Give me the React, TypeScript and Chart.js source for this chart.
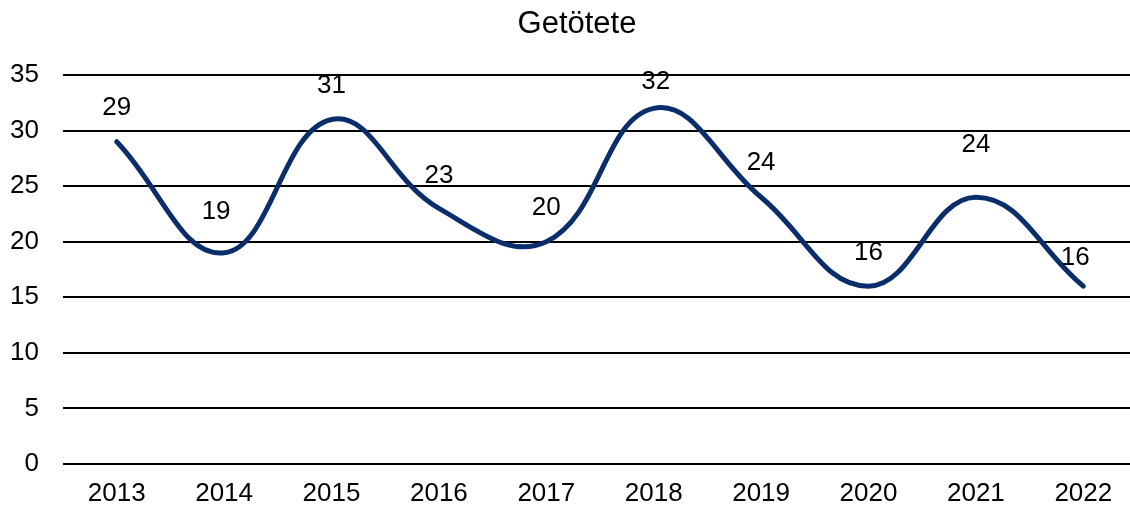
import React, { useEffect, useRef } from "react";
import { Chart, registerables } from "chart.js";

Chart.register(...registerables);

const categories = ["2013", "2014", "2015", "2016", "2017", "2018", "2019", "2020", "2021", "2022"];
const killed = [29, 19, 31, 23, 20, 32, 24, 16, 24, 16];
const yTicks = [0, 5, 10, 15, 20, 25, 30, 35];
const chartTitle = "Getötete";

// label nudges [dx, dy] relative to the point (style only)
const labelNudge: [number, number][] = [
  [0, -34], [-8, -41], [0, -34], [0, -33], [0, -34],
  [2, -27], [0, -34], [0, -33], [0, -52], [-8, -28],
];

const FONT = "'Liberation Sans', Arial, sans-serif";

export default function App() {
  const ref = useRef<HTMLCanvasElement | null>(null);
  useEffect(() => {
    document.body.style.margin = "0";
    const labelPlugin = {
      id: "valueLabels",
      afterDatasetsDraw(chart: any) {
        const ctx = chart.ctx;
        const meta = chart.getDatasetMeta(0);
        ctx.save();
        ctx.font = `26px ${FONT}`;
        ctx.fillStyle = "#000";
        ctx.textAlign = "center";
        ctx.textBaseline = "middle";
        meta.data.forEach((pt: any, i: number) => {
          const [dx, dy] = labelNudge[i];
          ctx.fillText(String(killed[i]), pt.x + dx, pt.y + dy);
        });
        ctx.font = `31px ${FONT}`;
        ctx.fillText(chartTitle, 577, 24);
        ctx.restore();
      },
    };
    const chart = new Chart(ref.current!, {
      type: "line",
      data: {
        labels: categories,
        datasets: [
          {
            data: killed,
            borderColor: "#0a2d6b",
            borderWidth: 5,
            borderCapStyle: "round",
            borderJoinStyle: "round",
            tension: 0.42,
            pointRadius: 0,
            fill: false,
          },
        ],
      },
      options: {
        animation: false,
        responsive: false,
        maintainAspectRatio: false,
        layout: { padding: { left: 0, right: 0, top: 75, bottom: 0 } },
        plugins: {
          legend: { display: false },
          tooltip: { enabled: false },
          title: { display: false },
        },
        scales: {
          x: {
            offset: true,
            grid: { display: false, drawTicks: false },
            border: { display: false },
            ticks: {
              color: "#000",
              font: { family: FONT, size: 26 },
              padding: 14.5,
              maxRotation: 0,
              autoSkip: false,
            },
            afterFit(scale: any) {
              scale.height = 48;
            },
          },
          y: {
            min: 0,
            max: 35,
            afterBuildTicks(scale: any) {
              scale.ticks = yTicks.map((v) => ({ value: v }));
            },
            grid: { color: "#000", lineWidth: 2, drawTicks: false },
            border: { display: false },
            ticks: {
              color: "#000",
              font: { family: FONT, size: 26 },
              padding: 24,
            },
            afterFit(scale: any) {
              scale.width = 63;
            },
          },
        },
      },
      plugins: [labelPlugin],
    });
    return () => chart.destroy();
  }, []);
  return (
    <div style={{ position: "fixed", left: 0, top: 0, width: 1130, height: 512, overflow: "hidden", background: "#fff" }}>
      <canvas ref={ref} width={1137} height={512} style={{ width: 1137, height: 512, display: "block" }} />
    </div>
  );
}
